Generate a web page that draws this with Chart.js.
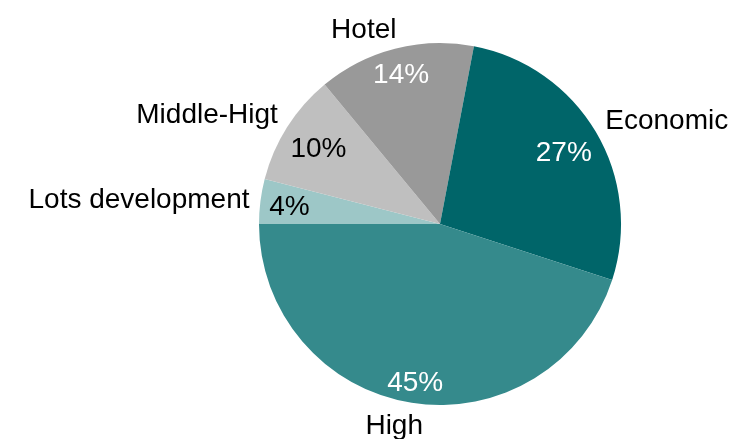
<!DOCTYPE html>
<html>
<head>
<meta charset="utf-8">
<script src="https://cdn.jsdelivr.net/npm/chart.js@4/dist/chart.umd.min.js"></script>
<style>
  html, body { margin: 0; padding: 0; background: #ffffff; }
  #wrap { width: 733px; height: 439px; position: relative; }
</style>
</head>
<body>
<div id="wrap"><canvas id="c" width="733" height="439"></canvas></div>
<script>
// ---- data ----
const categories = ['Lots development', 'Middle-Higt', 'Hotel', 'Economic', 'High'];
const values = [4, 10, 14, 27, 45];
const sliceColors = ['#9dc7c7', '#bfbfbf', '#999999', '#006569', '#358a8c'];

const FONT_SIZE = 28;
const FONT = FONT_SIZE + 'px "Liberation Sans", Arial, sans-serif';
const CAP = FONT_SIZE * 0.716;

function isDark(hex) {
  const r = parseInt(hex.substr(1, 2), 16), g = parseInt(hex.substr(3, 2), 16), b = parseInt(hex.substr(5, 2), 16);
  return (0.299 * r + 0.587 * g + 0.114 * b) < 160;
}
function clamp(v) { return Math.max(-1, Math.min(1, v)); }

const labelPlugin = {
  id: 'pieLabels',
  afterDatasetsDraw(chart) {
    const ctx = chart.ctx;
    const meta = chart.getDatasetMeta(0);
    ctx.save();
    ctx.font = FONT;
    ctx.textAlign = 'left';
    ctx.textBaseline = 'alphabetic';
    meta.data.forEach((arc, i) => {
      const p = arc.getProps(['x', 'y', 'startAngle', 'endAngle', 'outerRadius'], true);
      const mid = (p.startAngle + p.endAngle) / 2;
      const dx = Math.cos(mid), dy = Math.sin(mid);
      const r = p.outerRadius;

      // percentage inside near the edge
      const pct = values[i] + '%';
      const pw = ctx.measureText(pct).width;
      const half = Math.abs(dx) * pw / 2 + Math.abs(dy) * CAP / 2;
      const d = r - 8 - half;
      const cx = p.x + dx * d, cy = p.y + dy * d;
      ctx.fillStyle = isDark(sliceColors[i]) ? '#ffffff' : '#000000';
      ctx.fillText(pct, cx - pw / 2, cy + CAP / 2);

      // category label outside
      const txt = categories[i];
      const tw = ctx.measureText(txt).width;
      const px = p.x + dx * (r + 11), py = p.y + dy * (r + 11);
      const u = 0.5 - clamp(dx * 3.5) / 2;
      const v = 0.5 - clamp(dy * 1.5) / 2;
      const left = px - u * tw;
      const top = py - v * CAP;
      ctx.fillStyle = '#000000';
      ctx.fillText(txt, left, top + CAP);
    });
    ctx.restore();
  }
};

new Chart(document.getElementById('c'), {
  type: 'pie',
  data: {
    labels: categories,
    datasets: [{
      data: values,
      backgroundColor: sliceColors,
      borderWidth: 0
    }]
  },
  options: {
    responsive: false,
    animation: false,
    rotation: 270,
    layout: { padding: { left: 259, right: 112, top: 43, bottom: 34 } },
    plugins: {
      legend: { display: false },
      tooltip: { enabled: false },
      title: { display: false }
    }
  },
  plugins: [labelPlugin]
});
</script>
</body>
</html>
